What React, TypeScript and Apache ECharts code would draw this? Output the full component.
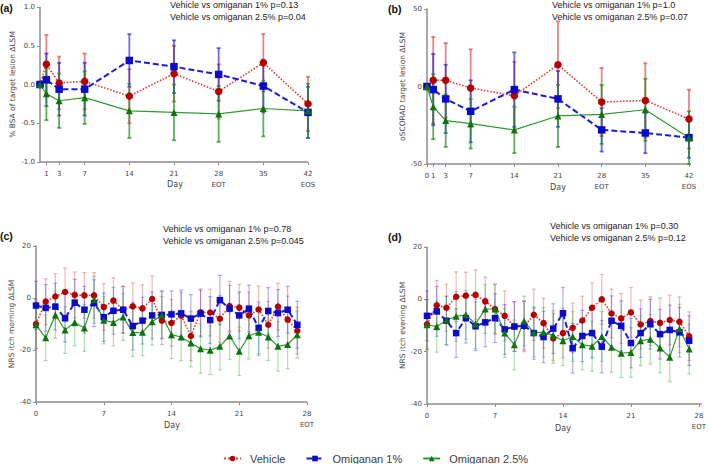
import React, { useEffect, useRef } from "react";
import * as echarts from "echarts";

// ---------- Data ----------
const daysAB = [0, 1, 3, 7, 14, 21, 28, 35, 42];
const daysCD = [0, 1, 2, 3, 4, 5, 6, 7, 8, 9, 10, 11, 12, 13, 14, 15, 16, 17, 18, 19, 20, 21, 22, 23, 24, 25, 26, 27];

const ticksA = [1, 3, 7, 14, 21, 28, 35, 42];
const ticksB = [0, 1, 3, 7, 14, 21, 28, 35, 42];

// (a) % BSA of target lesion
const aVehicle = [0, 0.26, 0.02, 0.04, -0.15, 0.14, -0.09, 0.28, -0.25];
const aVehicleErr = [0, 0.38, 0.34, 0.36, 0.35, 0.36, 0.35, 0.37, 0.35];
const aOm1 = [0, 0.06, -0.06, -0.06, 0.31, 0.23, 0.13, -0.02, -0.36];
const aOm1Err = [0, 0.34, 0.34, 0.34, 0.34, 0.34, 0.34, 0.34, 0.33];
const aOm25 = [0, -0.12, -0.21, -0.17, -0.34, -0.36, -0.38, -0.31, -0.34];
const aOm25Err = [0, 0.34, 0.35, 0.34, 0.35, 0.36, 0.36, 0.36, 0.35];

// (b) oSCORAD target lesion
const bVehicle = [0, 4, 4, -1, -6, 14, -10, -9, -21];
const bVehicleErr = [0, 28, 24, 25, 22, 28, 22, 24, 19];
const bOm1 = [0, -2, -8, -16, -2, -8, -28, -30, -33];
const bOm1Err = [0, 23, 22, 20, 24, 18, 14, 13, 13];
const bOm25 = [0, -13, -22, -24, -28, -19, -18, -15, -33];
const bOm25Err = [0, 21, 17, 16, 15, 20, 19, 20, 17];

// (c) NRS itch morning
const cVehicle = [-10, -1.4, 0.6, 2.3, 1.2, 1.0, 1.0, -3.5, -1.0, -4.5, -3.2, -4.0, -0.4, -8.7, -9.6, -6.8, -14.6, -5.5, -5.6, -8.0, -3.1, -3.7, -6.7, -4.4, -10.3, -3.3, -8.3, -12.6];
const cVehicleErr = [9.5, 8.8, 8.8, 9.2, 8.8, 8.8, 8.8, 9.0, 8.8, 9.0, 9.0, 9.0, 9.0, 9.2, 9.0, 9.0, 9.5, 9.0, 9.0, 9.0, 9.5, 9.0, 9.0, 9.0, 9.0, 9.0, 9.0, 9.0];
const cOm1 = [-2.9, -3.8, -3.3, -7.8, -1.8, -4.5, -2.0, -7.4, -4.9, -4.5, -10.8, -8.7, -6.7, -6.5, -6.3, -5.9, -7.9, -6.0, -8.5, -0.8, -4.1, -6.7, -4.1, -11.5, -5.0, -5.8, -4.5, -10.3];
const cOm1Err = [9.3, 9.0, 9.0, 9.2, 9.0, 9.0, 9.0, 9.3, 9.0, 9.0, 9.2, 9.0, 9.0, 9.2, 9.0, 9.0, 9.2, 9.0, 9.0, 9.5, 9.0, 9.0, 9.0, 10.0, 9.0, 9.0, 9.0, 9.0];
const cOm25 = [-10.3, -15.3, -6.5, -12.3, -9.4, -11.5, -0.6, -8.6, -9.4, -7.3, -13.3, -13.2, -9.1, -6.5, -14.1, -15.0, -17.3, -19.5, -20.1, -18.6, -14.6, -20.5, -14.5, -13.2, -15.0, -18.6, -17.9, -14.1];
const cOm25Err = [9.0, 8.8, 9.0, 9.0, 9.0, 9.0, 9.0, 9.0, 9.0, 9.0, 9.2, 9.0, 9.0, 9.0, 9.2, 9.2, 9.2, 9.5, 9.3, 9.0, 9.0, 9.3, 9.0, 9.0, 9.0, 9.5, 9.3, 9.0];

// (d) NRS itch evening
const dVehicle = [-9.5, -2.3, -3.2, 1.0, 1.4, 1.7, -0.8, -3.7, -6.3, -10.4, -10.3, -5.9, -9.1, -14.9, -12.9, -10.9, -8.1, -3.2, 0.0, -5.4, -7.3, -5.0, -9.6, -8.3, -9.0, -7.9, -8.6, -14.1];
const dVehicleErr = [9.5, 9.5, 9.0, 9.5, 9.0, 9.5, 9.3, 9.5, 9.5, 9.5, 9.7, 9.8, 9.5, 9.5, 9.5, 9.5, 9.3, 9.5, 9.5, 9.3, 9.5, 9.5, 9.3, 9.3, 9.5, 9.5, 9.5, 9.3];
const dOm1 = [-6.3, -4.6, -8.2, -12.9, -7.2, -10.3, -8.8, -7.2, -11.5, -10.4, -10.1, -12.9, -14.4, -11.2, -5.3, -18.7, -14.0, -12.9, -18.1, -8.2, -10.1, -16.7, -12.9, -9.5, -13.3, -11.7, -12.6, -15.8];
const dOm1Err = [9.5, 9.5, 9.3, 9.3, 9.5, 9.3, 9.3, 9.3, 9.5, 9.5, 9.3, 10.0, 9.8, 9.5, 9.8, 9.5, 9.8, 9.5, 10.0, 9.5, 9.5, 9.5, 9.3, 9.5, 9.5, 9.5, 9.5, 9.5];
const dOm25 = [-9.7, -10.4, -8.0, -6.5, -5.9, -9.4, -3.7, -3.7, -12.9, -17.4, -8.3, -12.7, -12.6, -13.8, -15.8, -14.2, -17.4, -17.9, -14.2, -18.3, -20.6, -20.3, -15.8, -15.3, -18.6, -22.1, -11.2, -19.0];
const dOm25Err = [9.5, 9.8, 9.3, 9.5, 9.3, 9.5, 9.3, 9.5, 9.3, 9.5, 9.5, 9.3, 9.5, 9.5, 9.5, 9.5, 9.5, 9.5, 9.5, 9.5, 9.3, 9.5, 9.5, 9.5, 9.5, 9.4, 9.3, 9.5];

const seriesNames = ["Vehicle", "Omiganan 1%", "Omiganan 2.5%"];

const annotA = ["Vehicle vs omiganan 1% p=0.13", "Vehicle vs omiganan 2.5% p=0.04"];
const annotB = ["Vehicle vs omiganan 1% p=1.0", "Vehicle vs omiganan 2.5% p=0.07"];
const annotC = ["Vehicle vs omiganan 1% p=0.78", "Vehicle vs omiganan 2.5% p=0.045"];
const annotD = ["Vehicle vs omiganan 1% p=0.30", "Vehicle vs omiganan 2.5% p=0.12"];

const yNames = [
  "% BSA of target lesion ΔLSM",
  "oSCORAD target lesion ΔLSM",
  "NRS itch morning ΔLSM",
  "NRS itch evening ΔLSM",
];

// ---------- Styles ----------
const lineColors = ["#e23b3b", "#1c1cd8", "#2f9a2f"];
const markerColors = ["#b40000", "#0a0ac8", "#0e720e"];
const symbols = ["circle", "rect", "triangle"];
const lineTypes: any[] = ["dotted", [6, 3], "solid"];
const lineWidths = [1.6, 2, 1.2];

const AXIS_COLOR = "#8c8c8c";
const LABEL_FONT = "DejaVu Sans";

const GRIDS = [
  { left: 40, top: 7, width: 268, height: 155 },
  { left: 427, top: 9, width: 262, height: 155 },
  { left: 36, top: 246, width: 271, height: 156 },
  { left: 427, top: 247, width: 275, height: 157 },
];

export default function App() {
  const ref = useRef<HTMLDivElement>(null);

  useEffect(() => {
    document.body.style.margin = "0";
    if (!ref.current) return;
    const chart = echarts.init(ref.current, undefined, { renderer: "svg" });

    const panels = [
      { days: daysAB, means: [aVehicle, aOm1, aOm25], errs: [aVehicleErr, aOm1Err, aOm25Err], strong: true },
      { days: daysAB, means: [bVehicle, bOm1, bOm25], errs: [bVehicleErr, bOm1Err, bOm25Err], strong: true },
      { days: daysCD, means: [cVehicle, cOm1, cOm25], errs: [cVehicleErr, cOm1Err, cOm25Err], strong: false },
      { days: daysCD, means: [dVehicle, dOm1, dOm25], errs: [dVehicleErr, dOm1Err, dOm25Err], strong: false },
    ];

    const errColorsStrong = ["rgba(215,50,50,0.6)", "rgba(30,30,215,0.65)", "rgba(30,140,30,0.7)"];
    const errColorsLight = ["rgba(220,70,70,0.38)", "rgba(50,50,225,0.38)", "rgba(50,170,50,0.38)"];

    const series: any[] = [];
    panels.forEach((p, pi) => {
      p.means.forEach((m, si) => {
        const color = p.strong ? errColorsStrong[si] : errColorsLight[si];
        const lw = p.strong ? 1.8 : 1.2;
        const data = p.days
          .map((d, k) => [d, m[k] - p.errs[si][k], m[k] + p.errs[si][k]])
          .filter((_, k) => p.errs[si][k] > 0);
        series.push({
          type: "custom",
          name: "err-" + pi + "-" + si,
          xAxisIndex: pi,
          yAxisIndex: pi,
          silent: true,
          z: 1,
          encode: { x: 0, y: [1, 2] },
          data,
          renderItem: (params: any, api: any) => {
            const x = api.value(0);
            const lo = api.coord([x, api.value(1)]);
            const hi = api.coord([x, api.value(2)]);
            const cw = 2;
            const style = { stroke: color, lineWidth: lw, fill: "none" };
            return {
              type: "group",
              children: [
                { type: "line", shape: { x1: lo[0], y1: lo[1], x2: hi[0], y2: hi[1] }, style },
                { type: "line", shape: { x1: lo[0] - cw, y1: lo[1], x2: lo[0] + cw, y2: lo[1] }, style },
                { type: "line", shape: { x1: hi[0] - cw, y1: hi[1], x2: hi[0] + cw, y2: hi[1] }, style },
              ],
            };
          },
        });
      });
      p.means.forEach((m, si) => {
        series.push({
          type: "line",
          name: seriesNames[si],
          xAxisIndex: pi,
          yAxisIndex: pi,
          z: 3,
          data: p.days.map((d, k) => [d, m[k]]),
          symbol: symbols[si],
          symbolSize: si === 2 ? 7 : p.strong ? 7.5 : 6.5,
          showSymbol: true,
          itemStyle: { color: markerColors[si] },
          lineStyle: { color: lineColors[si], type: lineTypes[si], width: lineWidths[si] },
        });
      });
    });

    const tickLabelFmt = (v: number) => {
      if (v === 28) return "28\nEOT";
      if (v === 42) return "42\nEOS";
      return String(v);
    };

    // x axis line hidden (drawn as the grid's bottom border below)
    const mkXLine = () => ({ show: false, onZero: false });
    const mkYLine = () => ({ show: true, onZero: false, lineStyle: { color: AXIS_COLOR, width: 1.5 } });
    const mkTick = (cv?: number[]) =>
      cv ? { show: true, length: 3, customValues: cv, lineStyle: { color: AXIS_COLOR } } : { show: true, length: 3, lineStyle: { color: AXIS_COLOR } };
    const mkLabel = (margin: number, extra: any) => ({
      fontSize: 7, color: "#444", fontFamily: LABEL_FONT, lineHeight: 11, margin, ...extra,
    });

    const xAxis: any[] = [
      {
        gridIndex: 0, type: "value", min: 0, max: 42,
        axisLine: mkXLine(), splitLine: { show: false },
        axisTick: mkTick(ticksA),
        axisLabel: mkLabel(6, { customValues: ticksA, formatter: tickLabelFmt }),
      },
      {
        gridIndex: 1, type: "value", min: 0, max: 42,
        axisLine: mkXLine(), splitLine: { show: false },
        axisTick: mkTick(ticksB),
        axisLabel: mkLabel(6, { customValues: ticksB, formatter: tickLabelFmt }),
      },
      {
        gridIndex: 2, type: "value", min: 0, max: 28, interval: 7,
        axisLine: mkXLine(), splitLine: { show: false }, axisTick: mkTick(),
        axisLabel: mkLabel(6, { formatter: tickLabelFmt }),
      },
      {
        gridIndex: 3, type: "value", min: 0, max: 28, interval: 7,
        axisLine: mkXLine(), splitLine: { show: false }, axisTick: mkTick(),
        axisLabel: mkLabel(6, { formatter: tickLabelFmt }),
      },
    ];

    const mkYName = (i: number, gap: number) => ({
      name: yNames[i], nameLocation: "middle", nameGap: gap,
      nameTextStyle: { fontSize: 7.5, color: "#444", fontFamily: LABEL_FONT },
    });
    const yAxis: any[] = [
      {
        gridIndex: 0, type: "value", min: -1, max: 1, interval: 0.5, ...mkYName(0, 24),
        axisLine: mkYLine(), axisTick: mkTick(), splitLine: { show: false },
        axisLabel: mkLabel(5, { formatter: (v: number) => v.toFixed(1) }),
      },
      {
        gridIndex: 1, type: "value", min: -50, max: 50, interval: 50, ...mkYName(1, 20),
        axisLine: mkYLine(), axisTick: mkTick(), splitLine: { show: false },
        axisLabel: mkLabel(5, {}),
      },
      {
        gridIndex: 2, type: "value", min: -40, max: 20, interval: 20, ...mkYName(2, 20),
        axisLine: mkYLine(), axisTick: mkTick(), splitLine: { show: false },
        axisLabel: mkLabel(5, {}),
      },
      {
        gridIndex: 3, type: "value", min: -40, max: 20, interval: 20, ...mkYName(3, 20),
        axisLine: mkYLine(), axisTick: mkTick(), splitLine: { show: false },
        axisLabel: mkLabel(5, {}),
      },
    ];

    const annotStyle = { fontSize: 9, fill: "#222", fontFamily: "Liberation Sans" };
    const annot = (lines: string[], x: number, y: number) =>
      lines.map((t, i) => ({
        type: "text", left: x, top: y + i * 12,
        style: { text: t, ...annotStyle },
      }));
    const panelLabel = (t: string, x: number, y: number) => ({
      type: "text", left: x, top: y,
      style: { text: t, fontSize: 10.5, fontWeight: "bold", fill: "#111", fontFamily: "Liberation Sans" },
    });
    const dayLabel = (cx: number, top: number) => ({
      type: "text", x: cx, y: top,
      style: { text: "Day", fontSize: 8, fill: "#444", fontFamily: LABEL_FONT, align: "center", verticalAlign: "top" },
    });
    const bottomLines = GRIDS.map((g) => ({
      type: "line",
      silent: true,
      shape: { x1: g.left, y1: g.top + g.height, x2: g.left + g.width, y2: g.top + g.height },
      style: { stroke: AXIS_COLOR, lineWidth: 1.5 },
    }));

    chart.setOption({
      animation: false,
      backgroundColor: "#ffffff",
      grid: GRIDS,
      xAxis,
      yAxis,
      series,
      legend: {
        data: seriesNames,
        left: 218,
        top: 448,
        itemWidth: 17,
        itemHeight: 7,
        itemGap: 20,
        selectedMode: false,
        textStyle: { fontSize: 11, color: "#404040", fontFamily: "Liberation Sans", padding: [0, 0, 0, 4] },
      },
      graphic: [
        ...bottomLines,
        panelLabel("(a)", 0, 2),
        panelLabel("(b)", 388, 3),
        panelLabel("(c)", 0, 230),
        panelLabel("(d)", 388, 231),
        ...annot(annotA, 170, 0),
        ...annot(annotB, 552, 0),
        ...annot(annotC, 163, 224),
        ...annot(annotD, 550, 221),
        dayLabel(175, 180),
        dayLabel(558, 183),
        dayLabel(172, 421),
        dayLabel(563, 424),
      ],
    });

    return () => chart.dispose();
  }, []);

  return <div ref={ref} style={{ width: 709, height: 464 }} />;
}
